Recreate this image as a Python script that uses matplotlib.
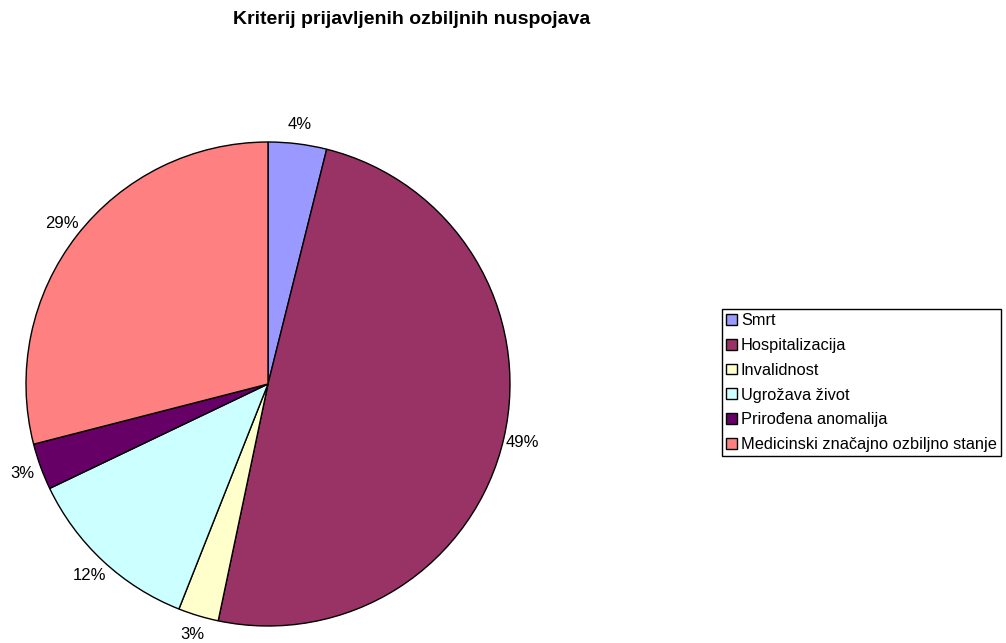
import matplotlib.pyplot as plt

plt.rcParams['font.family'] = ['Liberation Sans', 'DejaVu Sans']

labels = ['Smrt', 'Hospitalizacija', 'Invalidnost', 'Ugrožava život',
          'Prirođena anomalija', 'Medicinski značajno ozbiljno stanje']
values = [3.9, 49.4, 2.7, 11.9, 3.1, 29.0]
colors = ['#9999FF', '#993366', '#FFFFCC', '#CCFFFF', '#660066', '#FF8080']

fig = plt.figure(figsize=(10.06, 6.43), dpi=100)
ax = fig.add_axes([26 / 1006, 17 / 643, 484 / 1006, 484 / 643])

wedges, texts, autotexts = ax.pie(
    values, colors=colors, startangle=90, counterclock=False,
    autopct='%.0f%%', pctdistance=1.08,
    wedgeprops=dict(edgecolor='black', linewidth=1.0, clip_on=False),
    textprops=dict(fontsize=12, color='black'))
ax.set_xlim(-1, 1)
ax.set_ylim(-1, 1)
ax.set_aspect('equal')

fig.text(412 / 1006, 1 - 20 / 643, 'Kriterij prijavljenih ozbiljnih nuspojava',
         ha='center', va='center', fontsize=14, fontweight='bold')

leg = fig.legend(wedges, labels, loc='upper left',
                 bbox_to_anchor=(722 / 1006, 1 - 309 / 643),
                 fontsize=11.8, frameon=True, fancybox=False,
                 edgecolor='black', framealpha=1,
                 handlelength=0.65, handleheight=0.65, handletextpad=0.25,
                 labelspacing=0.6, borderpad=0.25, borderaxespad=0)
leg.get_frame().set_linewidth(1.0)

fig.savefig('out.png', dpi=100)
